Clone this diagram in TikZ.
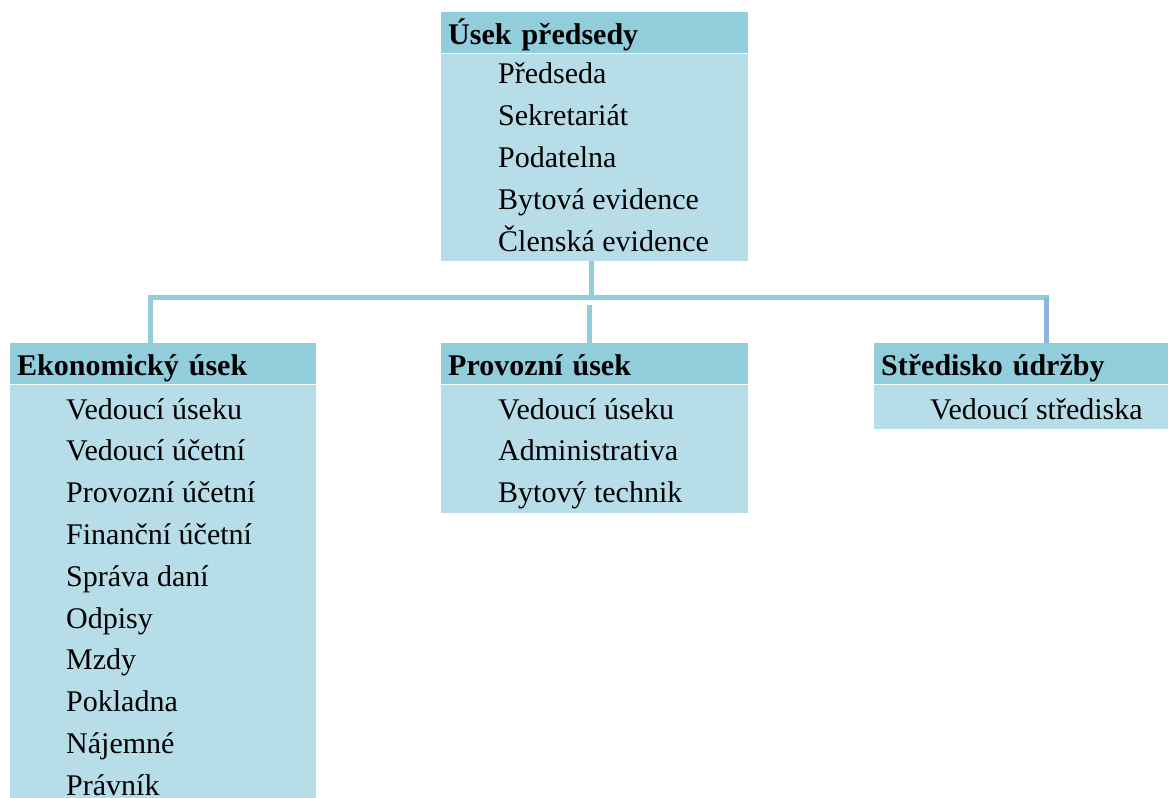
\documentclass[tikz,border=0pt]{standalone}
\usepackage{fontspec}
\setmainfont{Liberation Serif}
\usepackage{tikz}

\definecolor{headblue}{HTML}{92CDDC}
\definecolor{bodyblue}{HTML}{B7DDE8}
\definecolor{linkblue}{HTML}{8DB3E2}

\tikzset{
  head/.style={fill=headblue, anchor=north west, inner xsep=7pt, inner ysep=0pt,
    minimum height=41pt, text height=24pt, text depth=0pt, align=left,
    font=\bfseries\fontsize{30}{36}\selectfont},
  body/.style={fill=bodyblue, anchor=north west, inner sep=0pt},
  item/.style={anchor=base west, inner sep=0pt, font=\fontsize{30}{36}\selectfont},
  conn/.style={line width=5pt, headblue}
}

\begin{document}
\begin{tikzpicture}[x=1pt,y=-1pt]
\useasboundingbox (0,0) rectangle (1168,798);

% usek predsedy
\node[head, text width=293pt] (phead) at (441,12) {Úsek předsedy};
\node[body, minimum width=307pt, minimum height=207pt] (pbody) at (phead.south west) {};
\foreach \t [count=\i] in {Předseda, Sekretariát, Podatelna, Bytová evidence, Členská evidence}
  \node[item] (p\i) at (498, {42+41.8*\i}) {\t};

% ekonomicky usek
\node[head, text width=292pt] (ehead) at (10,343) {Ekonomický úsek};
\node[body, minimum width=306pt, minimum height=414pt] (ebody) at (ehead.south west) {};
\foreach \t [count=\i] in {Vedoucí úseku, Vedoucí účetní, Provozní účetní, Finanční účetní, Správa daní, Odpisy, Mzdy, Pokladna, Nájemné, Právník}
  \node[item] (e\i) at (66, {377.2+41.8*\i}) {\t};

% provozni usek
\node[head, text width=293pt] (vhead) at (441,343) {Provozní úsek};
\node[body, minimum width=307pt, minimum height=128pt] (vbody) at (vhead.south west) {};
\foreach \t [count=\i] in {Vedoucí úseku, Administrativa, Bytový technik}
  \node[item] (v\i) at (498, {377.2+41.8*\i}) {\t};

% stredisko udrzby
\node[head, text width=280pt] (shead) at (874,343) {Středisko údržby};
\node[body, minimum width=294pt, minimum height=44pt] (sbody) at (shead.south west) {};
\node[item] (s1) at (930,419) {Vedoucí střediska};

% spojnice
\coordinate (jl) at (150,297.5);
\coordinate (jm) at (591,297.5);
\coordinate (jr) at (1046,297.5);
\draw[conn] (pbody.south -| jm) -- (jm);
\draw[conn] ([xshift=-2.5pt]jl) -- ([xshift=2.5pt]jr);
\draw[conn] (jl) -- (jl |- ehead.north);
\draw[conn] ([shift={(-2,7)}]jm) -- ([xshift=-2pt]jm |- vhead.north);
\draw[conn, linkblue] (jr) -- (jr |- shead.north);
\end{tikzpicture}
\end{document}
